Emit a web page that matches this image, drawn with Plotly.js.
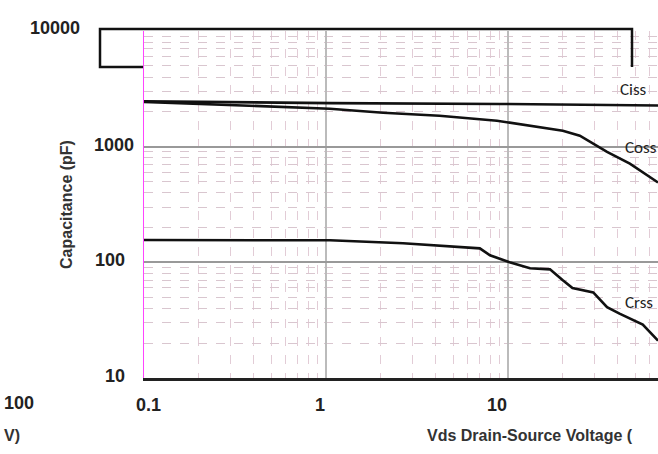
<!DOCTYPE html>
<html><head><meta charset="utf-8">
<script src="https://cdn.plot.ly/plotly-3.0.1.min.js"></script>
<style>body{margin:0;background:#fff}#c{width:658px;height:454px}</style>
</head><body><div id="c"></div>
<script>
const cissV = [0.1, 1.05, 9.0, 66.7];
const ciss = [2470, 2380, 2340, 2270];
const cossV = [0.1, 1.05, 2.06, 4.2, 8.7, 13.2, 20, 24.8, 30, 35, 46.7, 66.7];
const coss = [2440, 2130, 1966, 1850, 1675, 1517, 1374, 1245, 1050, 900, 714, 490];
const crssV = [0.1, 1.05, 2.65, 4.2, 7.0, 7.96, 10.2, 13.2, 17.0, 20, 22.6, 29.4, 35, 41, 55, 66.7];
const crss = [156, 155, 146, 140, 132, 115, 100, 89, 87, 70, 60, 55, 41, 36, 29, 21];
const yTicks = [10, 100, 1000, 10000];
const yTickText = ['10', '100', '1000', '10000'];
const xTicks = [0.1, 1, 10];
const xTickText = ['0.1', '1', '10'];
const xMinor = [0.2,0.3,0.4,0.5,0.6,0.7,0.8,0.9,2,3,4,5,6,7,8,9,20,30,40,50,60];
const yMinor = [20,30,40,50,60,70,80,90,200,300,400,500,600,700,800,900,2000,3000,4000,5000,6000,7000,8000,9000];
const labels = ['Ciss', 'Coss', 'Crss'];

const line = {color: '#111', width: 2.6};
const traces = [
  {x: cissV, y: ciss, mode: 'lines', line: line, name: labels[0]},
  {x: cossV, y: coss, mode: 'lines', line: line, name: labels[1]},
  {x: crssV, y: crss, mode: 'lines', line: line, name: labels[2]}
];
const FF = 'Liberation Sans, Arial, sans-serif';
const tickFont = {family: FF, size: 18, color: '#222', weight: 'bold'};
const ann = [];
const yShift = [-17, -17, -8, -62];
for (let i = 0; i < yTicks.length; i++) {
  ann.push({xref: 'paper', yref: 'y', x: 0, y: Math.log10(yTicks[i]), xanchor: 'right', xshift: yShift[i],
            yshift: i === 3 ? 3 : 2, text: yTickText[i], showarrow: false, font: tickFont});
}
const xShift = [4, -6, -11];
for (let i = 0; i < xTicks.length; i++) {
  ann.push({xref: 'x', yref: 'paper', x: Math.log10(xTicks[i]), y: 0, yanchor: 'top', yshift: -15, xshift: xShift[i],
            text: xTickText[i], showarrow: false, font: tickFont});
}
const lblFont = {family: 'Carlito, Liberation Sans, Arial, sans-serif', size: 17, color: '#222'};
ann.push({xref: 'paper', yref: 'y', x: 0, y: Math.log10(3150), xanchor: 'left', xshift: 474, text: labels[0], showarrow: false, font: lblFont});
ann.push({xref: 'paper', yref: 'y', x: 0, y: Math.log10(980), xanchor: 'left', xshift: 479, text: labels[1], showarrow: false, font: lblFont});
ann.push({xref: 'paper', yref: 'y', x: 0, y: Math.log10(45), xanchor: 'left', xshift: 479, text: labels[2], showarrow: false, font: lblFont});
const titleFont = {family: FF, size: 16, color: '#333', weight: 'bold'};
ann.push({xref: 'paper', yref: 'paper', x: 0, y: 0, xanchor: 'left', yanchor: 'middle', xshift: 281, yshift: -57,
          text: 'Vds Drain-Source Voltage (', showarrow: false, font: titleFont});
ann.push({xref: 'paper', yref: 'paper', x: 0, y: 0, xanchor: 'left', yanchor: 'middle', xshift: -142, yshift: -57,
          text: 'V)', showarrow: false, font: titleFont});
ann.push({xref: 'paper', yref: 'paper', x: 0, y: 0, xanchor: 'left', yanchor: 'middle', xshift: -142, yshift: -25,
          text: '100', showarrow: false, font: tickFont});

const W = 514, H = 347;
const px = function(x){ return (x - 144) / W; };
const py = function(y){ return (378 - y) / H; };

const layout = {
  width: 658, height: 454,
  margin: {l: 144, r: 0, t: 31, b: 76},
  paper_bgcolor: '#fff', plot_bgcolor: '#fff',
  showlegend: false,
  xaxis: {
    type: 'log', range: [-1, 1.824],
    tickvals: xTicks, showticklabels: false,
    showgrid: true, gridcolor: '#bbb', gridwidth: 1.5,
    minor: {tickmode: 'array', tickvals: xMinor, showgrid: true, gridcolor: '#e2ccd6', griddash: 'dash', gridwidth: 1, ticks: ''},
    showline: true, linecolor: '#222', linewidth: 3,
    ticks: '', zeroline: false
  },
  yaxis: {
    type: 'log', range: [1, 4],
    tickvals: yTicks, showticklabels: false,
    showgrid: true, gridcolor: '#999', gridwidth: 2,
    minor: {tickmode: 'array', tickvals: yMinor, showgrid: true, gridcolor: '#d9c6cf', griddash: 'dash', gridwidth: 1, ticks: ''},
    showline: true, linecolor: '#ff44ff', linewidth: 1.5,
    ticks: '', zeroline: false,
    title: {text: 'Capacitance (pF)', font: {family: FF, size: 16, color: '#333', weight: 'bold'}, standoff: 66}
  },
  annotations: ann,
  shapes: [
    {type: 'path', xref: 'paper', yref: 'paper',
     path: 'M ' + px(143) + ',' + py(67) + ' L ' + px(100) + ',' + py(67) + ' L ' + px(100) + ',' + py(29) + ' L ' + px(632) + ',' + py(29) + ' L ' + px(632) + ',' + py(67),
     line: {color: '#111', width: 2.5}},
    {type: 'rect', xref: 'paper', yref: 'paper', x0: px(144), x1: px(658), y0: py(67), y1: py(98),
     fillcolor: 'rgba(255,255,255,0.75)', line: {width: 0}, layer: 'below'}
  ]
};
Plotly.newPlot('c', traces, layout, {displayModeBar: false, staticPlot: true});
</script></body></html>
